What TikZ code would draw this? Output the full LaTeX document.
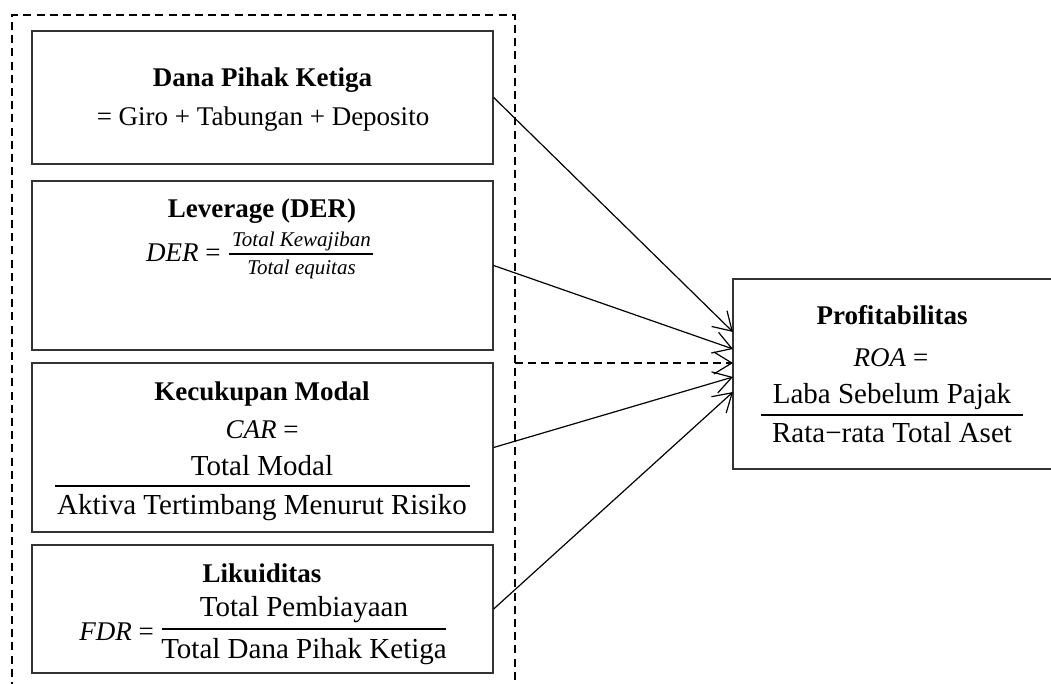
\documentclass[tikz,border=0pt]{standalone}
\usepackage{fontspec}
\setmainfont{Liberation Serif}
\usetikzlibrary{arrows.meta,calc}
\begin{document}
\begin{tikzpicture}[x=0.5pt,y=-0.5pt,
  box/.style={draw=black!80, line width=0.65pt, inner sep=0pt},
  ttl/.style={anchor=base, inner sep=0pt, font=\fontsize{13.5}{16}\selectfont\bfseries},
  tms/.style={anchor=base, inner sep=0pt, font=\fontsize{13.5}{16}\selectfont},
  cam/.style={anchor=base, inner sep=0pt, font=\fontsize{14.5}{17}\selectfont},
  sml/.style={anchor=base, inner sep=0pt, font=\fontsize{10.5}{12}\selectfont\itshape},
  frule/.style={line width=1.4pt},
  arr/.style={line width=0.6pt, -{Straight Barb[length=9pt,width=11pt,line width=0.6pt]}},
  dashline/.style={line width=0.6pt, dash pattern=on 4pt off 2.6pt}
]
\useasboundingbox (0,0) rectangle (1051,684);

% dashed group frame (open at bottom)
\coordinate (gbl) at (12,690);
\coordinate (gtl) at (12,15);
\coordinate (gtr) at (515,15);
\coordinate (gbr) at (515,690);
\draw[dashline] (gbl) -- (gtl) -- (gtr) -- (gbr);

% boxes
\node (b1) [box, minimum width=230.5pt, minimum height=66.5pt] at (262.5,97.5) {};
\node (b2) [box, minimum width=230.5pt, minimum height=84.5pt] at (262.5,265.5) {};
\node (b3) [box, minimum width=230.5pt, minimum height=84.5pt] at (262.5,447.5) {};
\node (b4) [box, minimum width=230.5pt, minimum height=64pt] at (262.5,609) {};
\node (p)  [box, minimum width=161pt, minimum height=95pt] at (894,374) {};

% box 1
\node (t1) [ttl] at (262.5,87) {Dana Pihak Ketiga};
\node (f1) [tms] at (263,126) {= Giro + Tabungan + Deposito};

% box 2
\node (t2) [ttl] at (262,218) {Leverage (DER)};
\node (f2a) [tms, anchor=base east] at (221,262) {\textit{DER} =};
\node (f2n) [sml] at (301.5,247) {Total Kewajiban};
\node (f2d) [sml] at (301.5,275) {Total equitas};
\coordinate (r2l) at (229,254);
\coordinate (r2r) at (373,254);
\draw[line width=1.1pt] (r2l) -- (r2r);

% box 3
\node (t3) [ttl] at (262,401) {Kecukupan Modal};
\node (f3a) [tms] at (262,439) {\textit{CAR} =};
\node (f3n) [cam] at (262,476) {Total Modal};
\node (f3d) [cam] at (262,515) {Aktiva Tertimbang Menurut Risiko};
\coordinate (r3l) at (55,486);
\coordinate (r3r) at (470,486);
\draw[frule] (r3l) -- (r3r);

% box 4
\node (t4) [ttl] at (262,582) {Likuiditas};
\node (f4a) [tms, anchor=base west] at (79,640) {\textit{FDR} =};
\node (f4n) [cam] at (304,617) {Total Pembiayaan};
\node (f4d) [cam] at (304,658) {Total Dana Pihak Ketiga};
\coordinate (r4l) at (162,629);
\coordinate (r4r) at (446,629);
\draw[frule] (r4l) -- (r4r);

% profitabilitas
\node (t5) [ttl] at (892,325) {Profitabilitas};
\node (f5a) [tms] at (891,367) {\textit{ROA} =};
\node (f5n) [cam] at (892,404) {Laba Sebelum Pajak};
\node (f5d) [cam] at (892,443) {Rata−rata Total Aset};
\coordinate (r5l) at (761,415);
\coordinate (r5r) at (1023,415);
\draw[frule] (r5l) -- (r5r);

% arrow targets
\coordinate (e1) at (733,332);
\coordinate (e2) at (733,349);
\coordinate (e3) at (733,363);
\coordinate (e4) at (733,377);
\coordinate (e5) at (733,392);
\coordinate (ds) at (515,363);

\draw[arr] (b1.east) -- (e1);
\draw[arr] (b2.east) -- (e2);
\draw[arr, dash pattern=on 4pt off 2.6pt] (ds) -- (e3);
\draw[arr] (b3.east) -- (e4);
\draw[arr] (b4.east) -- (e5);
\end{tikzpicture}
\end{document}
